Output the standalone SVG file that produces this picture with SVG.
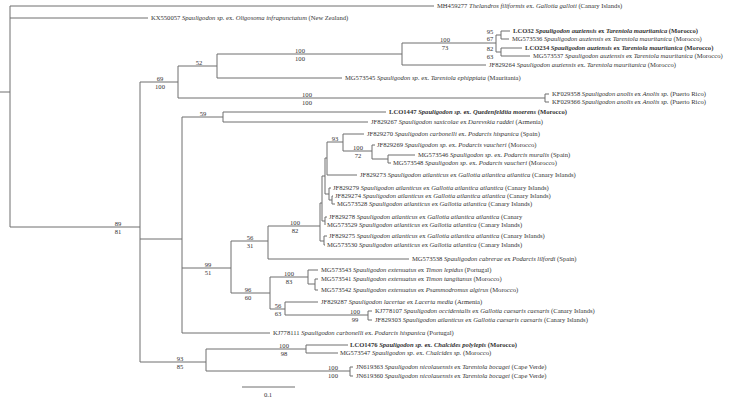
<svg xmlns="http://www.w3.org/2000/svg" width="730" height="400" viewBox="0 0 730 400">
<style>
.c path{stroke:#6e6e6e;stroke-width:1;fill:none}
text{font-family:"Liberation Serif","Times New Roman",serif;font-size:6.6px;fill:#333}
.i{font-style:italic}
.b{font-weight:bold}
.s{text-anchor:middle}
</style>
<rect width="730" height="400" fill="#fff"/>
<g class="c" id="connectors">
<path d="M0 92H10M10 6V227M10 6H434M10 18H148M10 227H140M140 82V362M140 82H178M178 66V98M178 66H217M217 54V78M217 54H402M217 78H342M402 43V65M402 43H496M402 65H486M496 35V52M496 35H501M501 31V39M501 31H510M501 39H509M496 52H501M501 48V56M501 48H522M501 56H530M178 98H545M545 94V102M545 94H549M545 102H549"/>
<path d="M140 239H182M182 117V333M182 117H223M223 112V122M223 112H386M223 122H368M182 268H231M231 241V293M231 241H268M268 226V259M268 259H409M268 226H320M320 203V241"/>
<path d="M320 203H322M322 176V221M322 176H325M325 158V194M325 158H327M327 142V175M327 142H343M343 134V151M343 134H364M343 151H372M372 145V159M372 145H375M372 159H388M388 155V163M388 155H415M388 163H391M327 175H357M325 194H329M329 188V200M329 188H331M329 200H332M332 196V204M332 196H333M332 204H335M322 221H325M325 217V225M325 217H327M320 241H324M324 236V245M324 236H327M324 245H325"/>
<path d="M231 293H270M270 277V309M270 277H308M308 270V284M308 270H318M308 284H315M315 279V290M315 279H318M315 290H318M270 309H285M285 302V315M285 302H318M285 315H368M368 311V320M368 311H372M368 320H372M182 333H270"/>
<path d="M140 362H206M206 349V371M206 349H306M306 345V353M306 345H348M306 353H338M206 371H350M350 367V376M350 367H353M350 376H353M242 387H295"/>
</g>
<g id="supports">
<text class="s" x="118" y="225.5">89</text><text class="s" x="118" y="233.8">81</text>
<text class="s" x="160" y="80.5">69</text><text class="s" x="160" y="88.8">100</text>
<text class="s" x="199" y="64.5">52</text>
<text class="s" x="300" y="52.5">100</text><text class="s" x="300" y="60.8">100</text>
<text class="s" x="445" y="41.5">100</text><text class="s" x="445" y="49.8">73</text>
<text class="s" x="490" y="33.5">95</text><text class="s" x="490" y="41">67</text>
<text class="s" x="490" y="50.5">82</text><text class="s" x="490" y="58.8">63</text>
<text class="s" x="307" y="96.5">100</text><text class="s" x="307" y="104.8">100</text>
<text class="s" x="203" y="115.5">59</text>
<text class="s" x="208" y="266.5">99</text><text class="s" x="208" y="274.8">51</text>
<text class="s" x="250" y="239.5">56</text><text class="s" x="250" y="247.8">31</text>
<text class="s" x="295" y="224.5">100</text><text class="s" x="295" y="232.8">82</text>
<text class="s" x="335" y="140.5">93</text>
<text class="s" x="358" y="149.5">100</text><text class="s" x="358" y="157.8">72</text>
<text class="s" x="248" y="291.5">96</text><text class="s" x="248" y="299.8">60</text>
<text class="s" x="289" y="275.5">100</text><text class="s" x="289" y="283.8">83</text>
<text class="s" x="278" y="307.5">56</text><text class="s" x="278" y="315.8">63</text>
<text class="s" x="355" y="313.5">100</text><text class="s" x="355" y="321.8">99</text>
<text class="s" x="180" y="360.5">93</text><text class="s" x="180" y="368.8">85</text>
<text class="s" x="284" y="347.5">100</text><text class="s" x="284" y="355.8">98</text>
<text class="s" x="333" y="369.5">100</text><text class="s" x="333" y="377.8">100</text>
<text class="s" x="268" y="397">0.1</text>
</g>
<g id="t01"><text x="437" y="8.3">MH459277 <tspan class="i">Thelandros filiformis</tspan> ex. <tspan class="i">Gallotia galloti</tspan> (Canary Islands)</text></g>
<g id="t02"><text x="151" y="20.3">KX550057 <tspan class="i">Spauligodon sp.</tspan> ex. <tspan class="i">Oligosoma infrapunctatum</tspan> (New Zealand)</text></g>
<g id="t03"><text class="b" x="513" y="33.3">LCO32 <tspan class="i">Spauligodon auziensis</tspan> ex <tspan class="i">Tarentola mauritanica</tspan> (Morocco)</text></g>
<g id="t04"><text x="512" y="41.3">MG573536 <tspan class="i">Spauligodon auziensis</tspan> ex <tspan class="i">Tarentola mauritanica</tspan> (Morocco)</text></g>
<g id="t05"><text class="b" x="525" y="50.3">LCO234 <tspan class="i">Spauligodon auziensis</tspan> ex <tspan class="i">Tarentola mauritanica</tspan> (Morocco)</text></g>
<g id="t06"><text x="533" y="58.3">MG573537 <tspan class="i">Spauligodon auziensis</tspan> ex <tspan class="i">Tarentola mauritanica</tspan> (Morocco)</text></g>
<g id="t07"><text x="489" y="67.3">JF829264 <tspan class="i">Spauligodon auziensis</tspan> ex. <tspan class="i">Tarentola mauritanica</tspan> (Morocco)</text></g>
<g id="t08"><text x="345" y="80.3">MG573545 <tspan class="i">Spauligodon sp.</tspan> ex. <tspan class="i">Tarentola ephippiata</tspan> (Mauritania)</text></g>
<g id="t09"><text x="552" y="96.3">KF029358 <tspan class="i">Spauligodon anolis</tspan> ex <tspan class="i">Anolis sp.</tspan> (Puerto Rico)</text></g>
<g id="t10"><text x="552" y="104.3">KF029366 <tspan class="i">Spauligodon anolis</tspan> ex <tspan class="i">Anolis sp.</tspan> (Puerto Rico)</text></g>
<g id="t11"><text class="b" x="389" y="114.3">LCO1447 <tspan class="i">Spauligodon sp.</tspan> ex. <tspan class="i">Quedenfeldtia moerens</tspan> (Morocco)</text></g>
<g id="t12"><text x="371" y="124.3">JF829267 <tspan class="i">Spauligodon saxicolae</tspan> ex <tspan class="i">Darevskia raddei</tspan> (Armenia)</text></g>
<g id="t13"><text x="367" y="136.3">JF829270 <tspan class="i">Spauligodon carbonelli</tspan> ex. <tspan class="i">Podarcis hispanica</tspan> (Spain)</text></g>
<g id="t14"><text x="377" y="147.3">JF829269 <tspan class="i">Spauligodon sp.</tspan> ex. <tspan class="i">Podarcis vaucheri</tspan> (Morocco)</text></g>
<g id="t15"><text x="418" y="157.3">MG573546 <tspan class="i">Spauligodon sp.</tspan> ex. <tspan class="i">Podarcis muralis</tspan>  (Spain)</text></g>
<g id="t16"><text x="393" y="165.3">MG573548 <tspan class="i">Spauligodon sp.</tspan> ex. <tspan class="i">Podarcis vaucheri</tspan> (Morocco)</text></g>
<g id="t17"><text x="360" y="177.3">JF829273 <tspan class="i">Spauligodon atlanticus</tspan> ex <tspan class="i">Gallotia atlantica atlantica</tspan> (Canary Islands)</text></g>
<g id="t18"><text x="333" y="190.3">JF829279 <tspan class="i">Spauligodon atlanticus</tspan> ex <tspan class="i">Gallotia atlantica atlantica</tspan> (Canary Islands)</text></g>
<g id="t19"><text x="335" y="198.3">JF829274 <tspan class="i">Spauligodon atlanticus</tspan> ex <tspan class="i">Gallotia atlantica atlantica</tspan> (Canary Islands)</text></g>
<g id="t20"><text x="337" y="206.3">MG573528 <tspan class="i">Spauligodon atlanticus</tspan> ex <tspan class="i">Gallotia atlantica</tspan> (Canary Islands)</text></g>
<g id="t21"><text x="329" y="219.3">JF829278 <tspan class="i">Spauligodon atlanticus</tspan> ex <tspan class="i">Gallotia atlantica atlantica</tspan> (Canary</text></g>
<g id="t22"><text x="327" y="227.3">MG573529 <tspan class="i">Spauligodon atlanticus</tspan> ex <tspan class="i">Gallotia atlantica</tspan> (Canary Islands)</text></g>
<g id="t23"><text x="329" y="238.3">JF829275 <tspan class="i">Spauligodon atlanticus</tspan> ex <tspan class="i">Gallotia atlantica atlantica</tspan> (Canary Islands)</text></g>
<g id="t24"><text x="327" y="247.3">MG573530 <tspan class="i">Spauligodon atlanticus</tspan> ex <tspan class="i">Gallotia atlantica</tspan> (Canary Islands)</text></g>
<g id="t25"><text x="412" y="261.3">MG573538 <tspan class="i">Spauligodon cabrerae</tspan> ex <tspan class="i">Podarcis lilfordi</tspan> (Spain)</text></g>
<g id="t26"><text x="321" y="272.3">MG573543 <tspan class="i">Spauligodon extenuatus</tspan> ex <tspan class="i">Timon lepidus</tspan> (Portugal)</text></g>
<g id="t27"><text x="321" y="281.3">MG573541 <tspan class="i">Spauligodon extenuatus</tspan> ex <tspan class="i">Timon tangitanus</tspan> (Morocco)</text></g>
<g id="t28"><text x="321" y="292.3">MG573542 <tspan class="i">Spauligodon extenuatus</tspan> ex <tspan class="i">Psammodromus algirus</tspan> (Morocco)</text></g>
<g id="t29"><text x="321" y="304.3">JF829287 <tspan class="i">Spauligodon lacertae</tspan> ex <tspan class="i">Lacerta media</tspan> (Armenia)</text></g>
<g id="t30"><text x="375" y="313.3">KJ778107 <tspan class="i">Spauligodon occidentalis</tspan> ex <tspan class="i">Gallotia caesaris caesaris</tspan> (Canary Islands)</text></g>
<g id="t31"><text x="375" y="322.3">JF829303 <tspan class="i">Spauligodon atlanticus</tspan> ex <tspan class="i">Gallotia caesaris caesaris</tspan> (Canary Islands)</text></g>
<g id="t32"><text x="273" y="335.3">KJ778111 <tspan class="i">Spauligodon carbonelli</tspan> ex. <tspan class="i">Podarcis hispanica</tspan> (Portugal)</text></g>
<g id="t33"><text class="b" x="350" y="347.3">LCO1476 <tspan class="i">Spauligodon sp.</tspan> ex. <tspan class="i">Chalcides polylepis</tspan> (Morocco)</text></g>
<g id="t34"><text x="340" y="355.3">MG573547 <tspan class="i">Spauligodon sp.</tspan> ex. <tspan class="i">Chalcides sp.</tspan> (Morocco)</text></g>
<g id="t35"><text x="356" y="369.3">JN619363 <tspan class="i">Spauligodon nicolauensis</tspan> ex <tspan class="i">Tarentola bocagei</tspan> (Cape Verde)</text></g>
<g id="t36"><text x="356" y="378.3">JN619360 <tspan class="i">Spauligodon nicolauensis</tspan> ex <tspan class="i">Tarentola bocagei</tspan> (Cape Verde)</text></g>
</svg>
